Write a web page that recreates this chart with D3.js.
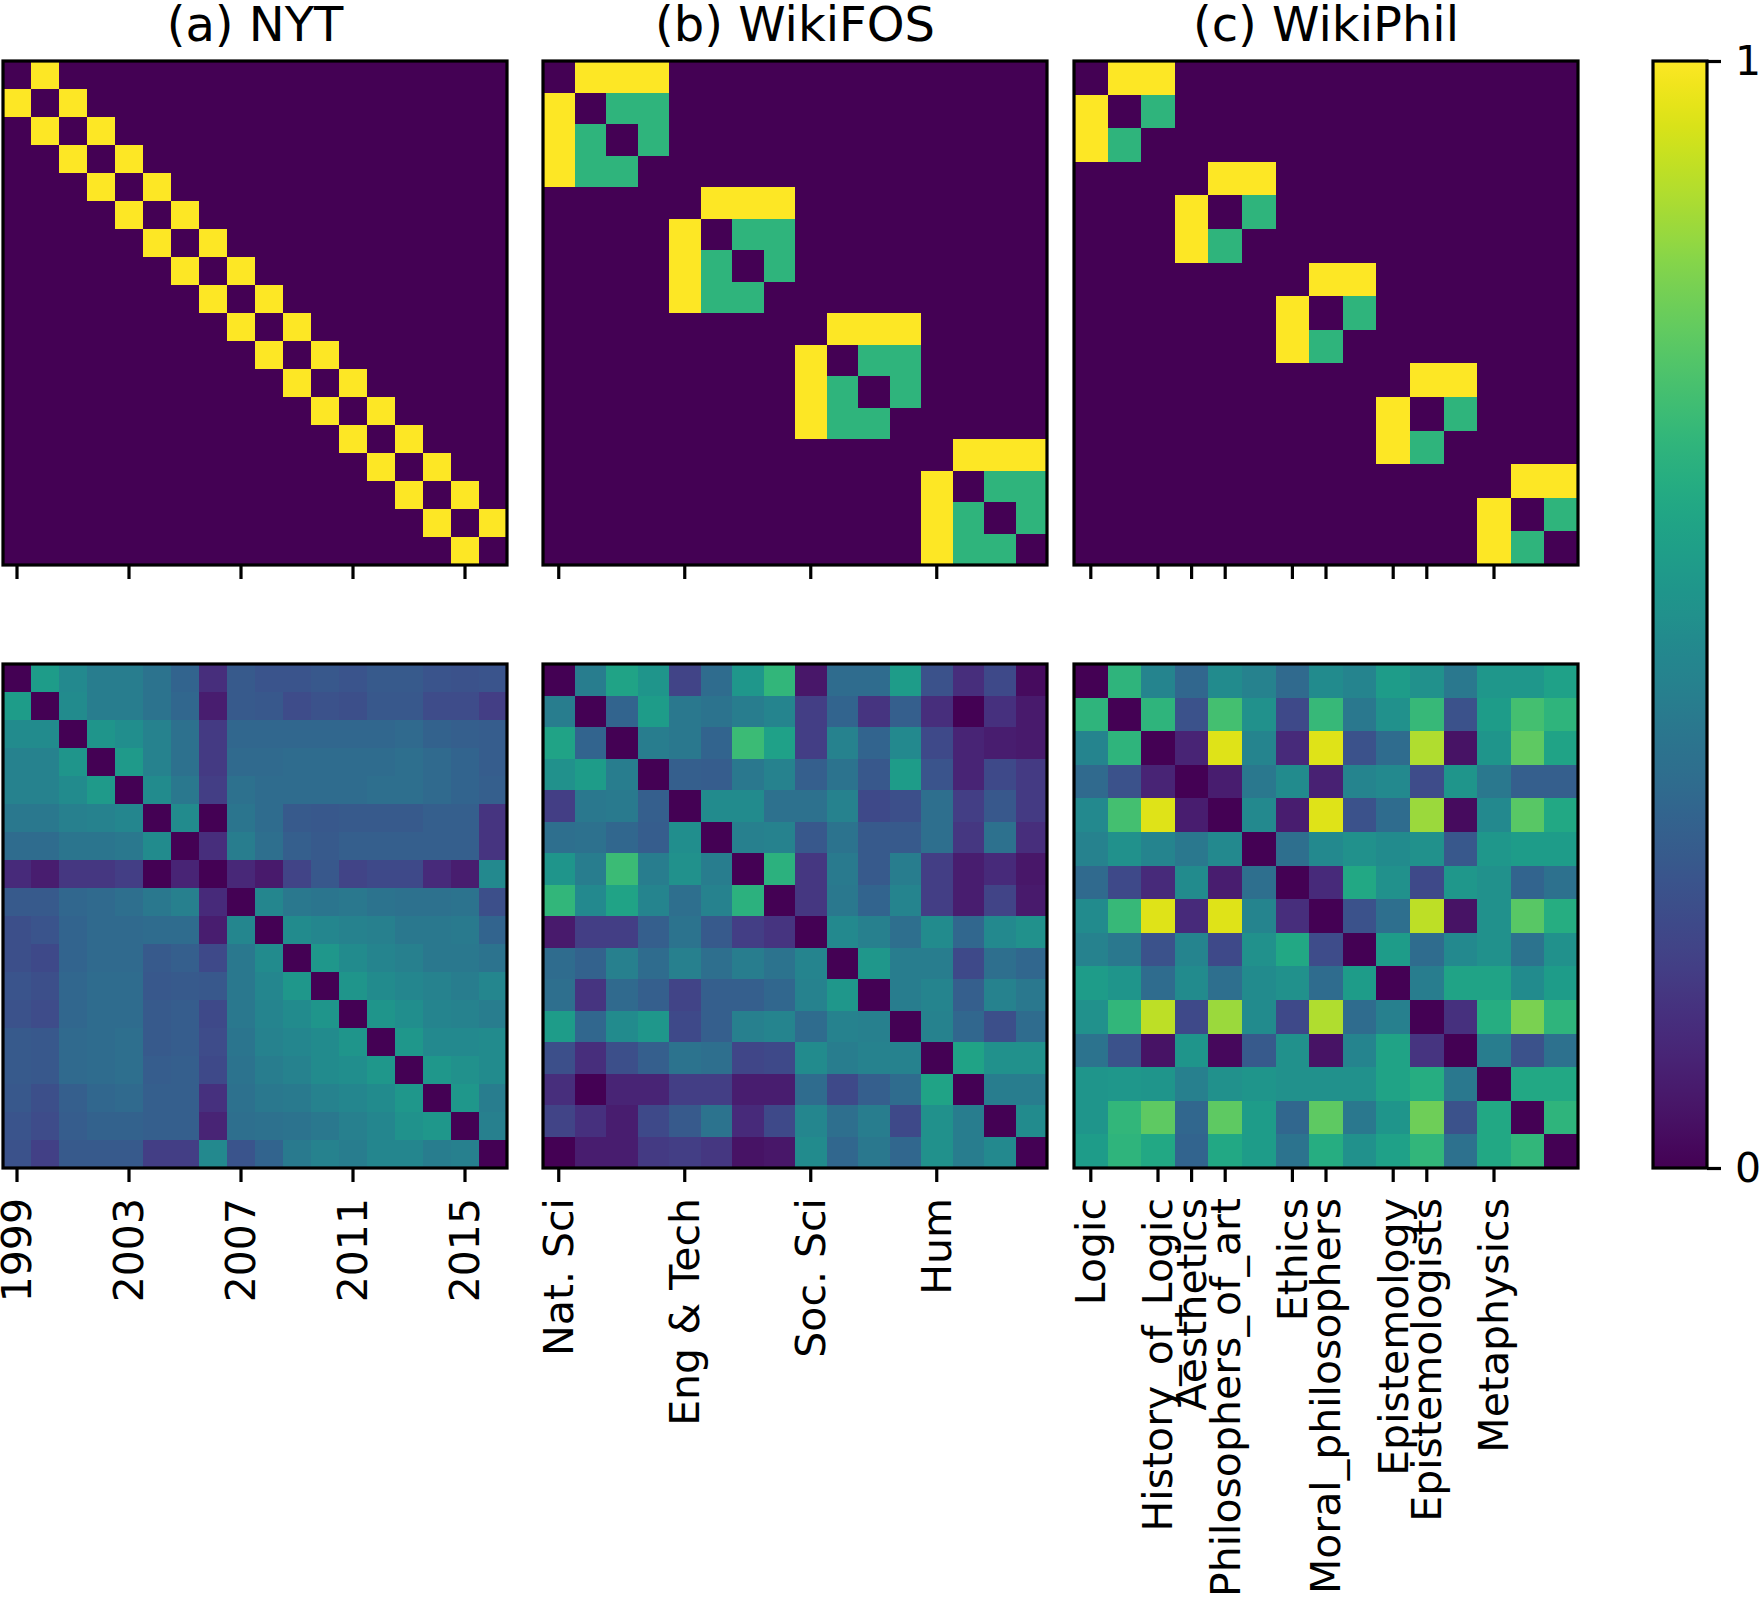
<!DOCTYPE html>
<html>
<head>
<meta charset="utf-8">
<script src="https://cdn.jsdelivr.net/npm/d3@7/dist/d3.min.js"></script>
<style>
  body { margin: 0; background: #fff; }
  text { font-family: "DejaVu Sans", sans-serif; }
</style>
</head>
<body>
<script>
// ---- titles & tick labels ----
const titles = ["(a) NYT", "(b) WikiFOS", "(c) WikiPhil"];

const nytTickPos = [0, 4, 8, 12, 16];
const nytTickLabels = ["1999", "2003", "2007", "2011", "2015"];

const fosTickPos = [0, 4, 8, 12];
const fosTickLabels = ["Nat. Sci", "Eng & Tech", "Soc. Sci", "Hum"];

const philTickPos = [0, 2, 3, 4, 6, 7, 9, 10, 12];
const philTickLabels = ["Logic", "History_of_Logic", "Aesthetics", "Philosophers_of_art",
  "Ethics", "Moral_philosophers", "Epistemology", "Epistemologists", "Metaphysics"];

const cbarTicks = [0, 1];

// ---- top row: structure matrices ----
const nytTop = [
  [0,1,0,0,0,0,0,0,0,0,0,0,0,0,0,0,0,0],
  [1,0,1,0,0,0,0,0,0,0,0,0,0,0,0,0,0,0],
  [0,1,0,1,0,0,0,0,0,0,0,0,0,0,0,0,0,0],
  [0,0,1,0,1,0,0,0,0,0,0,0,0,0,0,0,0,0],
  [0,0,0,1,0,1,0,0,0,0,0,0,0,0,0,0,0,0],
  [0,0,0,0,1,0,1,0,0,0,0,0,0,0,0,0,0,0],
  [0,0,0,0,0,1,0,1,0,0,0,0,0,0,0,0,0,0],
  [0,0,0,0,0,0,1,0,1,0,0,0,0,0,0,0,0,0],
  [0,0,0,0,0,0,0,1,0,1,0,0,0,0,0,0,0,0],
  [0,0,0,0,0,0,0,0,1,0,1,0,0,0,0,0,0,0],
  [0,0,0,0,0,0,0,0,0,1,0,1,0,0,0,0,0,0],
  [0,0,0,0,0,0,0,0,0,0,1,0,1,0,0,0,0,0],
  [0,0,0,0,0,0,0,0,0,0,0,1,0,1,0,0,0,0],
  [0,0,0,0,0,0,0,0,0,0,0,0,1,0,1,0,0,0],
  [0,0,0,0,0,0,0,0,0,0,0,0,0,1,0,1,0,0],
  [0,0,0,0,0,0,0,0,0,0,0,0,0,0,1,0,1,0],
  [0,0,0,0,0,0,0,0,0,0,0,0,0,0,0,1,0,1],
  [0,0,0,0,0,0,0,0,0,0,0,0,0,0,0,0,1,0]
];

const fosTop = [
  [0,1,1,1, 0,0,0,0, 0,0,0,0, 0,0,0,0],
  [1,0,.65,.65, 0,0,0,0, 0,0,0,0, 0,0,0,0],
  [1,.65,0,.65, 0,0,0,0, 0,0,0,0, 0,0,0,0],
  [1,.65,.65,0, 0,0,0,0, 0,0,0,0, 0,0,0,0],
  [0,0,0,0, 0,1,1,1, 0,0,0,0, 0,0,0,0],
  [0,0,0,0, 1,0,.65,.65, 0,0,0,0, 0,0,0,0],
  [0,0,0,0, 1,.65,0,.65, 0,0,0,0, 0,0,0,0],
  [0,0,0,0, 1,.65,.65,0, 0,0,0,0, 0,0,0,0],
  [0,0,0,0, 0,0,0,0, 0,1,1,1, 0,0,0,0],
  [0,0,0,0, 0,0,0,0, 1,0,.65,.65, 0,0,0,0],
  [0,0,0,0, 0,0,0,0, 1,.65,0,.65, 0,0,0,0],
  [0,0,0,0, 0,0,0,0, 1,.65,.65,0, 0,0,0,0],
  [0,0,0,0, 0,0,0,0, 0,0,0,0, 0,1,1,1],
  [0,0,0,0, 0,0,0,0, 0,0,0,0, 1,0,.65,.65],
  [0,0,0,0, 0,0,0,0, 0,0,0,0, 1,.65,0,.65],
  [0,0,0,0, 0,0,0,0, 0,0,0,0, 1,.65,.65,0]
];

const philTop = [
  [0,1,1, 0,0,0, 0,0,0, 0,0,0, 0,0,0],
  [1,0,.65, 0,0,0, 0,0,0, 0,0,0, 0,0,0],
  [1,.65,0, 0,0,0, 0,0,0, 0,0,0, 0,0,0],
  [0,0,0, 0,1,1, 0,0,0, 0,0,0, 0,0,0],
  [0,0,0, 1,0,.65, 0,0,0, 0,0,0, 0,0,0],
  [0,0,0, 1,.65,0, 0,0,0, 0,0,0, 0,0,0],
  [0,0,0, 0,0,0, 0,1,1, 0,0,0, 0,0,0],
  [0,0,0, 0,0,0, 1,0,.65, 0,0,0, 0,0,0],
  [0,0,0, 0,0,0, 1,.65,0, 0,0,0, 0,0,0],
  [0,0,0, 0,0,0, 0,0,0, 0,1,1, 0,0,0],
  [0,0,0, 0,0,0, 0,0,0, 1,0,.65, 0,0,0],
  [0,0,0, 0,0,0, 0,0,0, 1,.65,0, 0,0,0],
  [0,0,0, 0,0,0, 0,0,0, 0,0,0, 0,1,1],
  [0,0,0, 0,0,0, 0,0,0, 0,0,0, 1,0,.65],
  [0,0,0, 0,0,0, 0,0,0, 0,0,0, 1,.65,0]
];

// ---- bottom row: similarity matrices ----
const nytSim = [
  [0,.55,.47,.42,.42,.38,.32,.13,.28,.26,.26,.27,.26,.28,.28,.26,.25,.26],
  [.55,0,.48,.42,.42,.38,.33,.08,.28,.27,.23,.25,.24,.27,.27,.23,.23,.18],
  [.48,.48,0,.52,.49,.44,.37,.17,.33,.33,.33,.33,.33,.33,.34,.31,.30,.29],
  [.44,.44,.52,0,.54,.44,.37,.17,.34,.34,.35,.35,.35,.35,.36,.34,.32,.29],
  [.44,.44,.48,.54,0,.48,.40,.18,.37,.35,.35,.35,.35,.36,.36,.34,.32,.30],
  [.40,.40,.43,.44,.46,0,.48,0,.39,.35,.28,.27,.28,.28,.28,.30,.30,.15],
  [.35,.35,.39,.39,.40,.48,0,.13,.42,.36,.30,.28,.30,.30,.30,.30,.30,.15],
  [.12,.08,.16,.16,.18,0,.10,0,.11,.07,.20,.27,.20,.22,.22,.12,.08,.47],
  [.28,.28,.33,.34,.36,.40,.43,.12,0,.46,.40,.39,.40,.38,.37,.37,.38,.24],
  [.24,.26,.32,.34,.34,.35,.35,.08,.46,0,.48,.46,.44,.43,.40,.40,.41,.32],
  [.24,.22,.32,.34,.34,.28,.30,.22,.40,.48,0,.53,.48,.45,.43,.40,.40,.38],
  [.26,.24,.33,.35,.35,.27,.28,.27,.40,.46,.53,0,.52,.48,.46,.44,.42,.46],
  [.25,.23,.33,.35,.35,.28,.29,.22,.40,.45,.48,.52,0,.52,.49,.45,.44,.42],
  [.28,.27,.34,.35,.36,.28,.29,.23,.39,.44,.46,.48,.52,0,.53,.47,.47,.48],
  [.28,.27,.34,.35,.36,.29,.30,.22,.38,.42,.44,.48,.49,.53,0,.53,.50,.48],
  [.27,.24,.30,.33,.34,.30,.30,.14,.37,.40,.41,.44,.46,.48,.53,0,.53,.42],
  [.26,.23,.29,.31,.31,.30,.30,.10,.36,.37,.38,.40,.43,.46,.51,.53,0,.43],
  [.25,.19,.28,.28,.28,.18,.18,.47,.26,.32,.41,.44,.42,.46,.46,.42,.43,0]
];

const fosSim = [
  [0,.42,.58,.52,.20,.35,.53,.66,.06,.35,.35,.55,.25,.13,.22,.03],
  [.42,0,.32,.55,.40,.38,.42,.45,.18,.32,.15,.30,.13,0,.14,.07],
  [.58,.32,0,.42,.40,.32,.68,.57,.18,.44,.32,.47,.22,.10,.08,.07],
  [.50,.55,.42,0,.30,.29,.40,.44,.30,.38,.27,.55,.26,.10,.22,.17],
  [.18,.40,.41,.30,0,.48,.48,.37,.37,.44,.22,.24,.36,.18,.27,.17],
  [.36,.37,.33,.29,.49,0,.43,.44,.27,.38,.28,.28,.36,.16,.37,.13],
  [.52,.42,.68,.42,.50,.42,0,.64,.16,.41,.28,.42,.18,.08,.12,.06],
  [.66,.47,.58,.45,.36,.44,.64,0,.16,.40,.32,.45,.18,.08,.20,.07],
  [.07,.18,.18,.30,.38,.28,.18,.15,0,.47,.43,.36,.48,.33,.47,.50],
  [.35,.31,.43,.35,.43,.36,.42,.38,.45,0,.53,.42,.42,.22,.36,.33],
  [.36,.15,.34,.30,.20,.30,.30,.33,.44,.53,0,.42,.45,.30,.44,.40],
  [.55,.33,.48,.53,.22,.30,.43,.45,.35,.44,.43,0,.44,.33,.24,.35],
  [.24,.13,.24,.30,.38,.36,.21,.22,.48,.42,.44,.44,0,.58,.50,.50],
  [.13,0,.10,.10,.18,.18,.08,.08,.35,.22,.30,.35,.58,0,.42,.42],
  [.20,.14,.08,.22,.28,.38,.12,.22,.46,.36,.42,.22,.50,.42,0,.48],
  [0,.08,.08,.17,.18,.16,.05,.06,.48,.33,.40,.33,.50,.42,.47,0]
];

const philSim = [
  [0,.65,.45,.33,.48,.44,.34,.48,.45,.55,.50,.40,.53,.53,.57],
  [.65,0,.65,.25,.70,.50,.22,.67,.40,.50,.67,.25,.55,.70,.65],
  [.45,.65,0,.10,.95,.45,.12,.95,.25,.35,.88,.05,.52,.75,.58],
  [.34,.25,.10,0,.08,.40,.48,.09,.45,.47,.23,.52,.40,.30,.30],
  [.47,.70,.95,.08,0,.47,.08,.95,.25,.35,.85,.03,.47,.74,.60],
  [.44,.50,.45,.40,.47,0,.36,.47,.50,.48,.50,.27,.53,.55,.55],
  [.34,.22,.12,.48,.08,.36,0,.12,.60,.50,.22,.53,.50,.32,.37],
  [.48,.67,.95,.12,.95,.45,.13,0,.25,.36,.90,.05,.50,.74,.62],
  [.44,.40,.25,.45,.22,.50,.60,.23,0,.55,.35,.47,.50,.38,.50],
  [.55,.52,.35,.48,.36,.48,.50,.35,.55,0,.42,.58,.58,.48,.55],
  [.50,.66,.90,.22,.85,.48,.22,.88,.35,.43,0,.14,.62,.80,.65],
  [.38,.25,.05,.52,.02,.28,.50,.05,.45,.58,.15,0,.42,.25,.37],
  [.52,.53,.52,.43,.50,.52,.50,.50,.50,.58,.62,.40,0,.60,.60],
  [.52,.66,.75,.33,.75,.55,.33,.75,.40,.52,.78,.25,.60,0,.65],
  [.55,.65,.60,.32,.60,.55,.38,.62,.50,.57,.66,.37,.60,.66,0]
];

// ---- layout ----
const W = 1759, H = 1603;
const colX = [3, 543, 1074];
const rowY = [61, 664];
const side = 504;
const cbar = {x: 1653, w: 54, y0: 61, y1: 1168};
const lw = 3.2, tickLen = 14, tickPad = 14;
const tickFont = 41, titleFont = 48;

const color = d3.scaleSequential(d3.interpolateViridis).domain([0, 1]);

const svg = d3.select("body").append("svg")
    .attr("width", W).attr("height", H)
    .attr("viewBox", [0, 0, W, H]);
svg.append("rect").attr("width", W).attr("height", H).attr("fill", "#fff");

const columns = [
  {top: nytTop, sim: nytSim, ticks: nytTickPos, labels: nytTickLabels},
  {top: fosTop, sim: fosSim, ticks: fosTickPos, labels: fosTickLabels},
  {top: philTop, sim: philSim, ticks: philTickPos, labels: philTickLabels}
];

function heatmap(matrix, x0, y0, tickPos, tickLabels, showLabels) {
  const n = matrix.length;
  const xs = d3.scaleBand().domain(d3.range(n)).range([x0, x0 + side]);
  const ys = d3.scaleBand().domain(d3.range(n)).range([y0, y0 + side]);

  const g = svg.append("g");
  g.append("g").attr("shape-rendering", "crispEdges")
    .selectAll("g")
    .data(matrix)
    .join("g")
    .selectAll("rect")
    .data((row, i) => row.map((v, j) => ({i, j, v})))
    .join("rect")
      .attr("x", d => xs(d.j))
      .attr("y", d => ys(d.i))
      .attr("width", xs.bandwidth() + 0.5)
      .attr("height", ys.bandwidth() + 0.5)
      .attr("fill", d => color(d.v));

  const axis = d3.axisBottom(xs)
      .tickValues(tickPos)
      .tickSize(tickLen)
      .tickPadding(tickPad)
      .tickFormat((d, i) => showLabels ? tickLabels[i] : "");

  const ax = g.append("g")
      .attr("transform", `translate(0,${y0 + side})`)
      .call(axis);
  ax.select(".domain").remove();
  ax.selectAll(".tick line").attr("stroke", "#000").attr("stroke-width", lw);
  ax.selectAll(".tick text")
      .attr("font-size", tickFont)
      .attr("font-family", "DejaVu Sans, sans-serif")
      .attr("fill", "#000")
      .attr("y", 0)
      .attr("x", -(tickLen + tickPad + 2))
      .attr("dy", "0.35em")
      .attr("transform", "rotate(-90)")
      .attr("text-anchor", "end");

  // spines
  g.append("rect")
      .attr("x", x0).attr("y", y0)
      .attr("width", side).attr("height", side)
      .attr("fill", "none")
      .attr("stroke", "#000")
      .attr("stroke-width", lw);
}

columns.forEach((c, k) => {
  heatmap(c.top, colX[k], rowY[0], c.ticks, c.labels, false);
  heatmap(c.sim, colX[k], rowY[1], c.ticks, c.labels, true);
  svg.append("text")
      .attr("x", colX[k] + side / 2)
      .attr("y", 41)
      .attr("text-anchor", "middle")
      .attr("font-size", titleFont)
      .text(titles[k]);
});

// ---- colorbar ----
const grad = svg.append("defs").append("linearGradient")
    .attr("id", "viridis")
    .attr("x1", 0).attr("y1", 1).attr("x2", 0).attr("y2", 0);
grad.selectAll("stop")
  .data(d3.range(0, 1.0001, 0.02))
  .join("stop")
    .attr("offset", d => d)
    .attr("stop-color", d => color(d));

svg.append("rect")
    .attr("x", cbar.x).attr("y", cbar.y0)
    .attr("width", cbar.w).attr("height", cbar.y1 - cbar.y0)
    .attr("fill", "url(#viridis)")
    .attr("stroke", "#000")
    .attr("stroke-width", lw);

const cy = d3.scaleLinear().domain([0, 1]).range([cbar.y1, cbar.y0]);
const cax = svg.append("g")
    .attr("transform", `translate(${cbar.x + cbar.w},0)`)
    .call(d3.axisRight(cy).tickValues(cbarTicks).tickSize(tickLen).tickPadding(tickPad)
      .tickFormat(d3.format("d")));
cax.select(".domain").remove();
cax.selectAll(".tick line").attr("stroke", "#000").attr("stroke-width", lw);
cax.selectAll(".tick text")
    .attr("font-size", tickFont)
    .attr("font-family", "DejaVu Sans, sans-serif")
    .attr("fill", "#000");
</script>
</body>
</html>
